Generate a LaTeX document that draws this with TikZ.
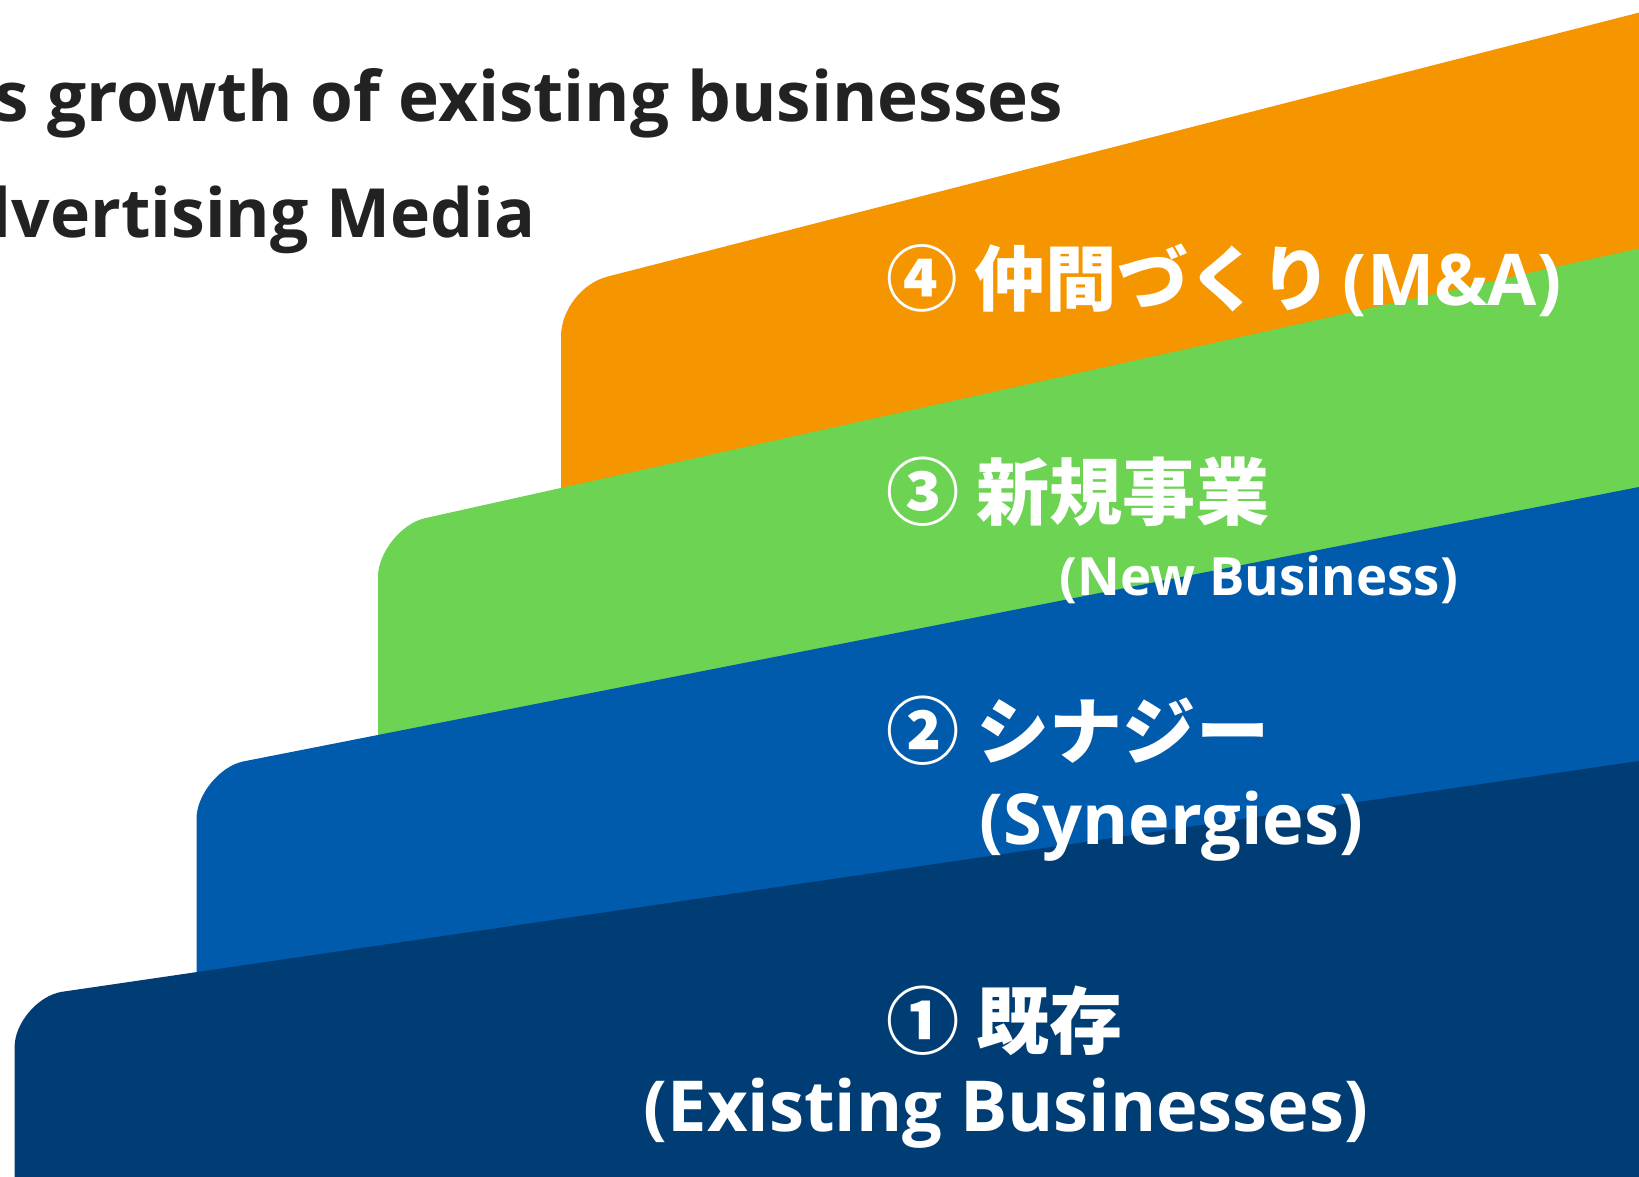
\documentclass[tikz,border=0pt]{standalone}
\usepackage{fontspec}
\setmainfont{Open Sans}
\newfontfamily\jpfont{Noto Sans CJK JP}
\usetikzlibrary{positioning}
\definecolor{orangestep}{HTML}{F59500}
\definecolor{greenstep}{HTML}{6CD353}
\definecolor{bluestep}{HTML}{005BAC}
\definecolor{navystep}{HTML}{003D74}
\definecolor{titlegray}{HTML}{222222}
\tikzset{
    layero/.style = {fill=orangestep},
    layerg/.style = {fill=greenstep},
    layerb/.style = {fill=bluestep},
    layern/.style = {fill=navystep},
    mytitle/.style = {anchor=base east, inner sep=0pt, text=titlegray, font=\fontsize{19.7}{24}\selectfont\bfseries},
    mylabel/.style = {anchor=base west, inner sep=0pt, text=white, font=\fontsize{20.8}{25}\selectfont\bfseries},
    mylabelen/.style = {inner sep=0pt, text=white, font=\fontsize{20}{24}\selectfont\bfseries},
    mylabelsm/.style = {anchor=base west, inner sep=0pt, text=white, font=\fontsize{15}{18}\selectfont\bfseries}
}

\begin{document}
\begin{tikzpicture}[x=0.01cm,y=-0.01cm]
\useasboundingbox (0,0) rectangle (1639,1177);
%
\fill[layero] (561,336.5) .. controls (561,310.1) and (581.9,283.2) .. (607.5,276.6) -- (1700,-3) -- (1700,241) -- (573,491) .. controls (561,494) .. (561,482) -- cycle;
\fill[layerg] (378,576.6) .. controls (378,552.6) and (401.5,523.4) .. (424.9,518.2) -- (1700,235) -- (1700,481) -- (390,739) .. controls (378,741) .. (378,729) -- cycle;
\fill[layerb] (196.5,818.7) .. controls (196.5,794.7) and (220,766) .. (243.6,761.4) -- (1700,475) -- (1700,758) -- (208.5,976) .. controls (196.5,978) .. (196.5,966) -- cycle;
\fill[layern] (14.6,1046.8) .. controls (14.6,1022.8) and (38.4,995.3) .. (62.1,991.8) -- (1700,752) -- (1700,1250) -- (14.6,1250) -- cycle;
%
\node[mytitle] at (1064,122) (title1) {s growth of existing businesses};
\node[mytitle,font=\fontsize{19.3}{24}\selectfont\bfseries] at (536,238) (title2) {dvertising Media};
%
\node[mylabel,font=\fontsize{20.3}{25}\selectfont\bfseries] at (886,306) (lbl4) {{\jpfont ④ 仲間づくり}\hspace{-2pt} (M\&A)};
\node[mylabel] at (886,520) (lbl3) {{\jpfont ③ 新規事業}};
\node[mylabelsm] at (1059,596) (lbl3en) {(New Business)};
\node[mylabel] at (886,759) (lbl2) {{\jpfont ② シナジー}};
\node[mylabelen,anchor=base west] at (979,845) (lbl2en) {(Synergies)};
\node[mylabel] at (886,1049) (lbl1) {{\jpfont ① 既存}};
\node[mylabelen,anchor=base east] at (1369,1132) (lbl1en) {(Existing Businesses)};

\end{tikzpicture}
\end{document}
